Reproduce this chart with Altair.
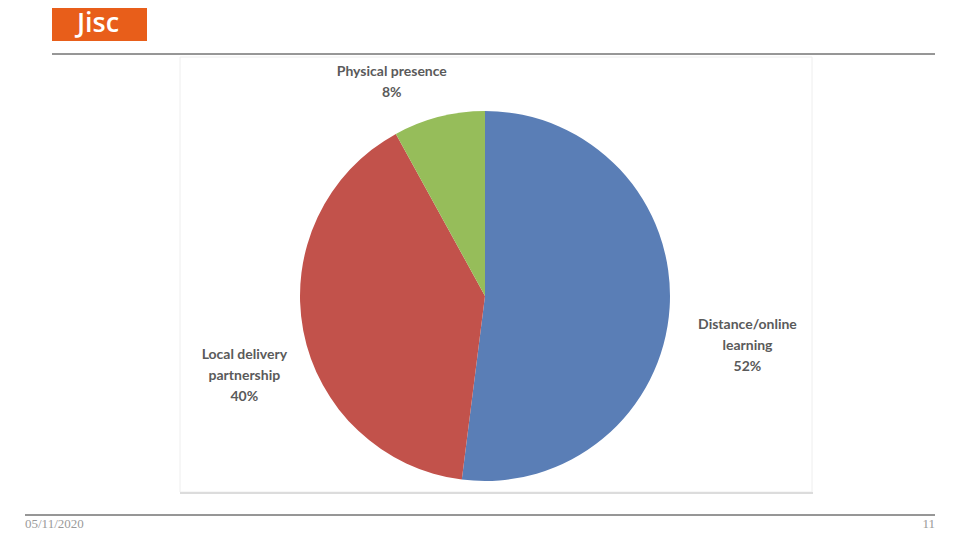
import altair as alt
import pandas as pd

categories = ["Distance/online learning", "Local delivery partnership", "Physical presence"]
label_text = ["Distance/online\nlearning", "Local delivery\npartnership", "Physical presence"]
values = [52, 40, 8]
colors = ["#5a7eb6", "#c2524b", "#96bd5a"]

df = pd.DataFrame({
    "category": categories,
    "label": [f"{t}\n{v}%" for t, v in zip(label_text, values)],
    "value": values,
    "ord": list(range(len(values))),
})

CX, CY, R = 477, 288, 185

base = alt.Chart(df)

pie = base.mark_arc(radius=R).encode(
    theta=alt.Theta("value:Q", stack=True),
    order=alt.Order("ord:Q"),
    color=alt.Color("category:N", scale=alt.Scale(domain=categories, range=colors), legend=None),
    x=alt.value(CX),
    y=alt.value(CY),
)

lab_base = base.transform_joinaggregate(total="sum(value)").transform_window(
    cum="sum(value)", sort=[alt.SortField("ord")], frame=[None, 0]
).transform_calculate(
    mid="(datum.cum - datum.value/2) / datum.total * 2 * PI"
)

def label_layer(cat, r, dx, dy):
    return lab_base.transform_filter(alt.datum.category == cat).mark_text(
        radius=r, dx=dx, dy=dy, fontSize=14, fontWeight="bold", font="Lato",
        color="#5a5a5a", lineBreak="\n", lineHeight=21, align="center", baseline="middle",
    ).encode(
        theta=alt.Theta("mid:Q", scale=None),
        text="label:N",
        x=alt.value(CX),
        y=alt.value(CY),
    )

labels = [
    label_layer(categories[0], 263, 0, 12),
    label_layer(categories[1], 245, 0, 13),
    label_layer(categories[2], 230, -36, -1),
]

one = alt.Data(values=[{}])

frame = alt.Chart(one).mark_rect(fill="white", stroke="#eeeeee", strokeWidth=1).encode(
    x=alt.value(172), x2=alt.value(804), y=alt.value(49), y2=alt.value(484)
)
frame_shadow = alt.Chart(one).mark_rule(color="#dcdcdc", strokeWidth=2).encode(
    x=alt.value(172), x2=alt.value(805), y=alt.value(485)
)

logo = alt.Chart(one).mark_rect(color="#e85e1a").encode(
    x=alt.value(44), x2=alt.value(139), y=alt.value(0), y2=alt.value(33)
)
logo_text = alt.Chart(one).mark_text(
    text="Jisc", color="white", fontSize=27, fontWeight=600, font="Open Sans",
    align="center", baseline="top"
).encode(x=alt.value(90), y=alt.value(3))

top_line = alt.Chart(one).mark_rule(color="#2e2e2e", strokeWidth=1).encode(
    x=alt.value(44), x2=alt.value(927), y=alt.value(46)
)
bottom_line = alt.Chart(one).mark_rule(color="#2e2e2e", strokeWidth=1).encode(
    x=alt.value(17), x2=alt.value(927), y=alt.value(507)
)
date_text = alt.Chart(one).mark_text(
    text="05/11/2020", color="#9a9a9a", fontSize=13, font="Liberation Serif",
    align="left", baseline="middle"
).encode(x=alt.value(17), y=alt.value(516))
page_text = alt.Chart(one).mark_text(
    text="11", color="#9a9a9a", fontSize=13, font="Liberation Serif",
    align="right", baseline="middle"
).encode(x=alt.value(927), y=alt.value(516))

chart = alt.layer(
    frame, frame_shadow, pie, *labels, logo, logo_text, top_line, bottom_line, date_text, page_text
).properties(
    width=944, height=524, padding=0, autosize="none", background="white"
).configure_view(stroke=None)

chart.save("out.html", embed_options={"renderer": "svg", "actions": False})
